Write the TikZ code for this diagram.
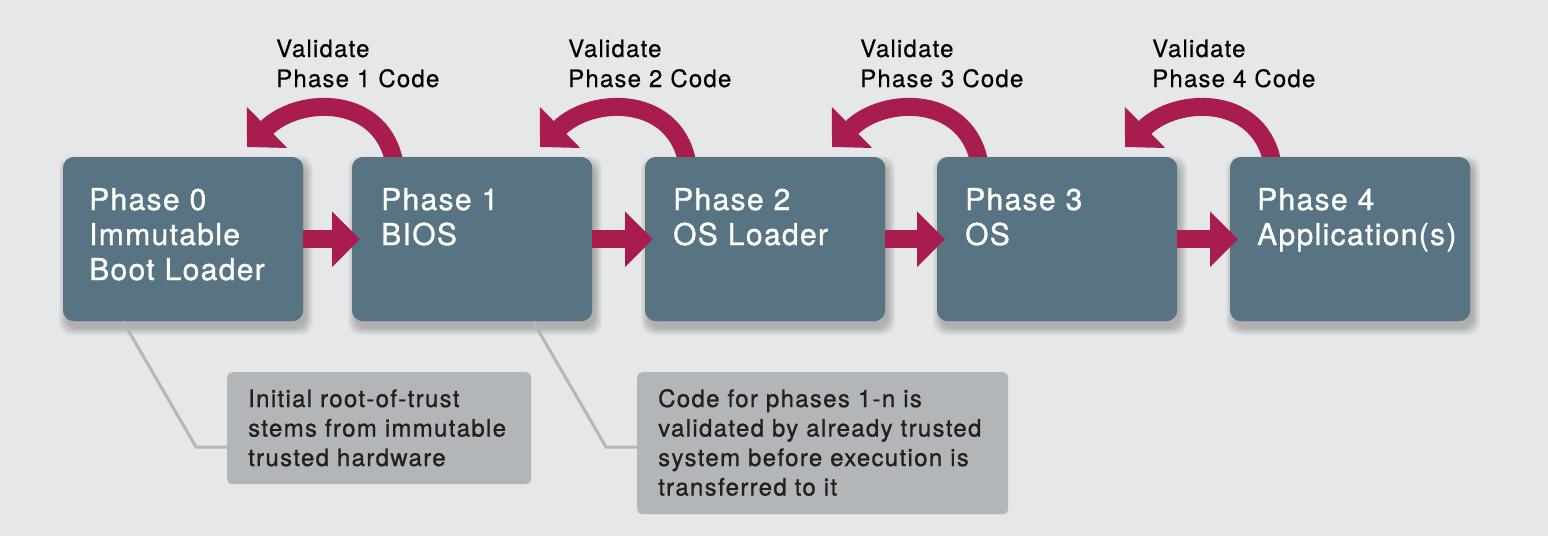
\documentclass[tikz,border=0pt]{standalone}
\usepackage{fontspec}
\setmainfont{TeX Gyre Heros}
\usetikzlibrary{arrows.meta,calc}
\definecolor{bgc}{HTML}{E6E7E8}
\definecolor{boxc}{HTML}{587482}
\definecolor{arrc}{HTML}{A81C50}
\definecolor{notec}{HTML}{B3B6B9}
\definecolor{leadc}{HTML}{B3B7BA}
\definecolor{ntext}{HTML}{231F20}
\tikzset{
  phasebox/.style={draw=none, fill=boxc, rounded corners=11pt, minimum width=240pt, minimum height=164pt, inner sep=0pt, anchor=north west},
  ptext/.style={text=white, font=\fontsize{30}{35}\selectfont\addfontfeature{LetterSpace=4.5,FakeBold=1}, text width=230pt, align=left, inner sep=0pt, anchor=base west},
  vtext/.style={text=black, font=\fontsize{24}{30}\selectfont\addfontfeature{LetterSpace=5,FakeBold=0.4}, text width=200pt, align=left, inner sep=0pt, anchor=base west},
  notebox/.style={draw=none, fill=notec, rounded corners=5pt, inner sep=0pt, anchor=north west},
  ntxt/.style={text=ntext, font=\fontsize{24}{29.5}\selectfont\addfontfeature{LetterSpace=5.5,FakeBold=1}, text width=360pt, align=left, inner sep=0pt, anchor=base west},
  rarrow/.style={draw=arrc, line width=18pt, -{Triangle[width=54pt,length=28pt]}},
  carrow/.style={draw=arrc, line width=18pt, -{Triangle[width=56pt,length=28pt]}},
  leader/.style={draw=leadc, line width=3pt},
}
\begin{document}
\begin{tikzpicture}[x=1pt,y=-1pt]
\fill[bgc] (0,0) rectangle (1548,536);
\useasboundingbox (0,0) rectangle (1548,536);

% shadows
\foreach \x in {63,352,645,937,1230}{
  \foreach \i in {0,...,7}{
    \fill[black, opacity=0.03, rounded corners=12pt] (\x+3-\i, 157+6-\i) rectangle (\x+240+3+\i, 321+7+\i);
  }
}

% boxes (named)
\node[phasebox] (p0) at (63,157) {};
\node[phasebox] (p1) at (352,157) {};
\node[phasebox] (p2) at (645,157) {};
\node[phasebox] (p3) at (937,157) {};
\node[phasebox] (p4) at (1230,157) {};

% curved validate arrows (drawn under box tops)
\foreach \a/\b in {p0/p1,p1/p2,p2/p3,p3/p4}{
  \draw[carrow] ($(\b.north west)+(43,10)$) .. controls ($(\b.north west)+(33,-62)$) and ($(\b.north west)+(-52,-62)$) .. ($(\b.north west)+(-105,-10)$);
}

% redraw boxes on top of arc starts
\foreach \x in {63,352,645,937,1230}{
  \fill[boxc, rounded corners=11pt] (\x,157) rectangle (\x+240,321);
}

% phase texts
\node[ptext] (t0) at ($(p0.north west)+(26,53)$) {Phase 0\\Immutable\\Boot Loader};
\node[ptext] (t1) at ($(p1.north west)+(29,53)$) {Phase 1\\BIOS};
\node[ptext] (t2) at ($(p2.north west)+(28,53)$) {Phase 2\\OS Loader};
\node[ptext] (t3) at ($(p3.north west)+(28,53)$) {Phase 3\\OS};
\node[ptext] (t4) at ($(p4.north west)+(27,53)$) {Phase 4\\Application(s)};

% validate labels
\node[vtext] (v1) at ($(p1.north west)+(-76,-100)$) {Validate\\Phase 1 Code};
\node[vtext] (v2) at ($(p2.north west)+(-77,-100)$) {Validate\\Phase 2 Code};
\node[vtext] (v3) at ($(p3.north west)+(-77,-100)$) {Validate\\Phase 3 Code};
\node[vtext] (v4) at ($(p4.north west)+(-78,-100)$) {Validate\\Phase 4 Code};

% straight arrows
\foreach \a/\b in {p0/p1,p1/p2,p2/p3,p3/p4}{
  \draw[rarrow] (\a.east) -- ($(\b.west)+(8,0)$);
}

% notes
\coordinate (c1) at (196,447);
\coordinate (c2) at (606,447);
\draw[leader] ($(p0.south west)+(60,0)$) -- (c1) -- (230,447);
\draw[leader] ($(p1.south west)+(181,0)$) -- (c2) -- (640,447);
\node[notebox, minimum width=304pt, minimum height=112pt] (n1) at (227,372) {};
\node[notebox, minimum width=371pt, minimum height=142pt] (n2) at (637,372) {};
\node[ntxt] (nt1) at ($(n1.north west)+(21,35)$) {Initial root-of-trust\\stems from immutable\\trusted hardware};
\node[ntxt] (nt2) at ($(n2.north west)+(21,35)$) {Code for phases 1-n is\\validated by already trusted\\system before execution is\\transferred to it};
\end{tikzpicture}
\end{document}
